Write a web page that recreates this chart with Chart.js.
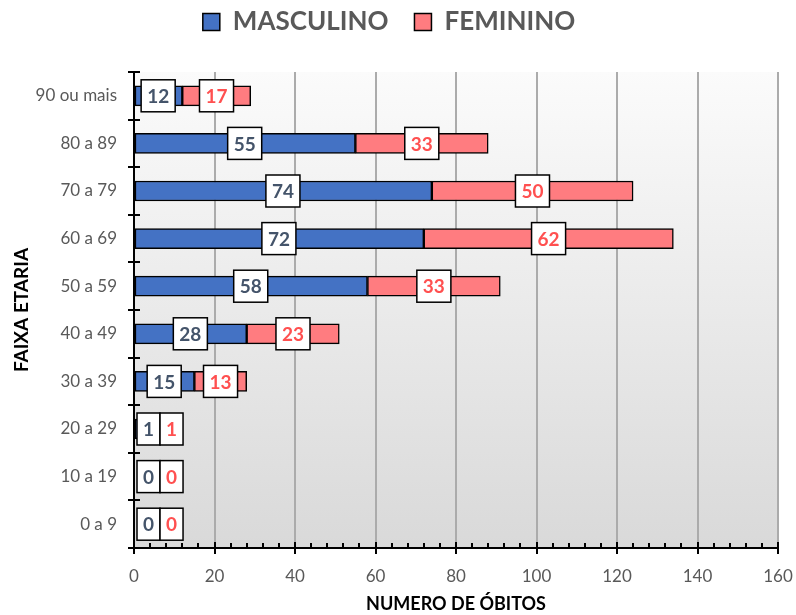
<!DOCTYPE html>
<html>
<head>
<meta charset="utf-8">
<script src="https://cdn.jsdelivr.net/npm/chart.js@4.4.1/dist/chart.umd.min.js"></script>
<style>
  html,body{margin:0;padding:0;background:#fff;}
  #wrap{width:796px;height:615px;}
</style>
</head>
<body>
<div id="wrap"><canvas id="chart"></canvas></div>
<script>
// data (top to bottom, as in the picture)
const faixas = ["90 ou mais","80 a 89","70 a 79","60 a 69","50 a 59","40 a 49","30 a 39","20 a 29","10 a 19","0 a 9"];
const masculino = [12,55,74,72,58,28,15,1,0,0];
const feminino  = [17,33,50,62,33,23,13,1,0,0];
const xMax = 160;
const xStep = 20;
const xMinorStep = 4;

const FONT = "Lato, 'Open Sans', sans-serif";

// fixed legend band height (room under the legend)
const legendGap = {
  id:"legendGap",
  beforeInit(chart){
    const fit = chart.legend.fit;
    chart.legend.fit = function(){
      fit.call(this);
      this.height = 89;
    };
  }
};

// plot background gradient
const bgPlugin = {
  id:"bg",
  beforeDraw(chart){
    const {ctx, chartArea:a} = chart;
    const g = ctx.createLinearGradient(0,a.top,0,a.bottom);
    g.addColorStop(0,"#fbfbfb");
    g.addColorStop(1,"#d9d9d9");
    ctx.save();
    ctx.fillStyle = g;
    ctx.fillRect(a.left,a.top,a.right-a.left,a.bottom-a.top);
    ctx.restore();
  }
};

// minor ticks + inner half of the major ticks
const tickPlugin = {
  id:"ticks2",
  afterDraw(chart){
    const {ctx, chartArea:a, scales} = chart;
    const x = scales.x, y = scales.y;
    ctx.save();
    ctx.strokeStyle = "#000";
    ctx.lineWidth = 2;
    ctx.beginPath();
    for(let v=0; v<=xMax; v+=xMinorStep){
      const px = Math.round(x.getPixelForValue(v));
      const len = (v % xStep === 0) ? 6 : 5;
      ctx.moveTo(px,a.bottom);
      ctx.lineTo(px,a.bottom-len);
    }
    const n = faixas.length;
    for(let i=0;i<=n;i++){
      let py;
      if(i===0) py = a.top;
      else if(i===n) py = a.bottom;
      else py = (y.getPixelForTick(i-1)+y.getPixelForTick(i))/2;
      py = Math.round(py);
      ctx.moveTo(a.left,py);
      ctx.lineTo(a.left+6,py);
    }
    ctx.stroke();
    ctx.restore();
  }
};

// boxed data labels
const labelPlugin = {
  id:"boxLabels",
  afterDatasetsDraw(chart){
    const {ctx, chartArea:a, scales} = chart;
    const x = scales.x, y = scales.y;
    ctx.save();
    ctx.font = "bold 19px " + FONT;
    ctx.textAlign = "center";
    ctx.textBaseline = "middle";
    const padX = 6, h = 32;
    faixas.forEach((f,i)=>{
      const m = masculino[i], w = feminino[i];
      const cy = y.getPixelForValue(i);
      const tm = String(m), tf = String(w);
      const wm = ctx.measureText(tm).width + padX*2;
      const wf = ctx.measureText(tf).width + padX*2;
      let cm = x.getPixelForValue(m/2);
      let cf = x.getPixelForValue(m + w/2);
      if(cm + wm/2 > cf - wf/2){
        let left = (cm+cf)/2 - (wm+wf)/2;
        if(left < a.left+3) left = a.left+3;
        cm = left + wm/2;
        cf = left + wm + wf/2;
      }
      [[cm,wm,tm,"#44546A"],[cf,wf,tf,"#FF5050"]].forEach(([cx,bw,t,col])=>{
        ctx.fillStyle = "#fff";
        ctx.fillRect(cx-bw/2, cy-h/2, bw, h);
        ctx.strokeStyle = "#000";
        ctx.lineWidth = 1.5;
        ctx.strokeRect(cx-bw/2, cy-h/2, bw, h);
        ctx.fillStyle = col;
        ctx.fillText(t, cx, cy+1);
      });
    });
    ctx.restore();
  }
};

const ctx = document.getElementById("chart");

new Chart(ctx,{
  type:"bar",
  data:{
    labels:faixas,
    datasets:[
      {
        label:"MASCULINO",
        data:masculino,
        backgroundColor:"#4472C4",
        borderColor:"#000",
        borderWidth:1.5,
        borderSkipped:false,
        barThickness:20
      },
      {
        label:"FEMININO",
        data:feminino,
        backgroundColor:"#FF7C80",
        borderColor:"#000",
        borderWidth:1.5,
        borderSkipped:false,
        barThickness:20
      }
    ]
  },
  options:{
    indexAxis:"y",
    responsive:true,
    maintainAspectRatio:false,
    animation:false,
    layout:{padding:{left:0,right:18,top:-17,bottom:0}},
    plugins:{
      legend:{
        position:"top",
        labels:{
          color:"#595959",
          font:{family:FONT,size:26,weight:"bold"},
          boxWidth:17,
          boxHeight:17,
          padding:26
        }
      },
      tooltip:{enabled:false}
    },
    scales:{
      x:{
        stacked:true,
        min:0,
        max:xMax,
        ticks:{
          stepSize:xStep,
          color:"#595959",
          font:{family:FONT,size:17},
          padding:12
        },
        grid:{
          color:"#ababab",
          lineWidth:2,
          tickColor:"#000",
          tickLength:6
        },
        border:{color:"#000",width:2},
        title:{
          display:true,
          text:"NUMERO DE ÓBITOS",
          color:"#000",
          font:{family:FONT,size:18,weight:"bold"},
          padding:{top:0,bottom:0}
        },
        afterFit(scale){
          scale.height = 67;
          scale.paddingRight = 0;
        }
      },
      y:{
        stacked:true,
        ticks:{
          color:"#595959",
          font:{family:FONT,size:17},
          padding:11
        },
        grid:{
          offset:true,
          drawOnChartArea:false,
          color:"#000",
          lineWidth:2,
          tickLength:6
        },
        border:{color:"#000",width:2},
        title:{
          display:true,
          text:"FAIXA ETARIA",
          color:"#000",
          font:{family:FONT,size:19,weight:"bold"},
          padding:{top:10,bottom:0}
        },
        afterFit(scale){ scale.width = 134; }
      }
    }
  },
  plugins:[legendGap,bgPlugin,tickPlugin,labelPlugin]
});
</script>
</body>
</html>
